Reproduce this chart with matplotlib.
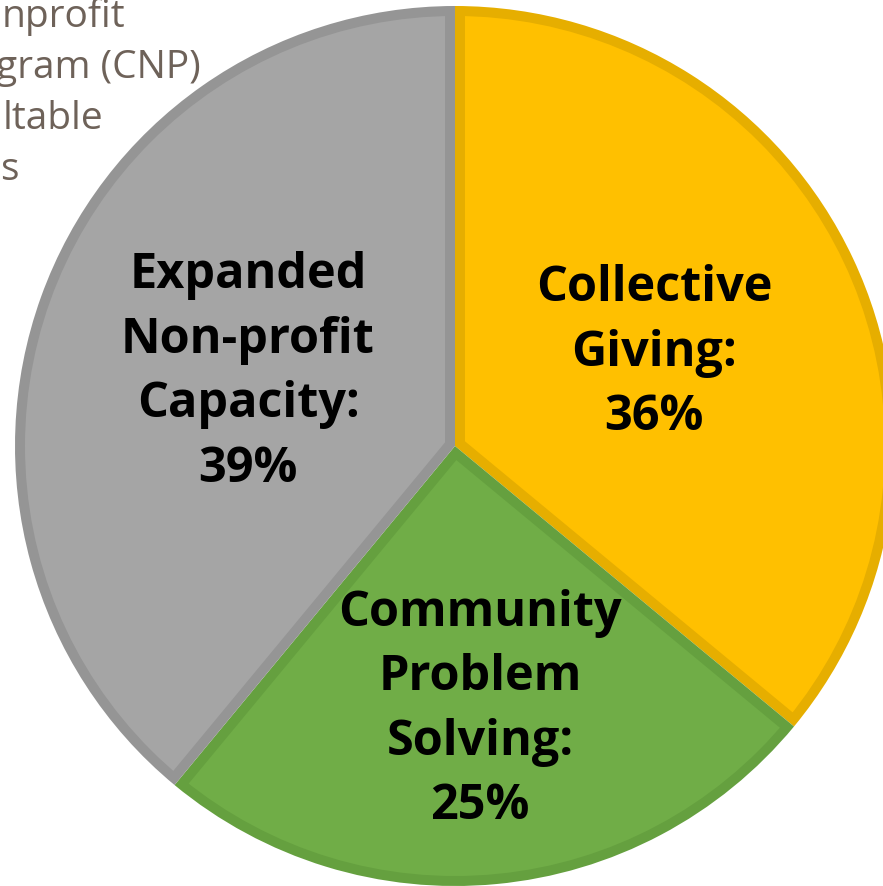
import numpy as np
import matplotlib.pyplot as plt
from matplotlib.patches import Wedge, Circle

# dados do grafico
categorias = ['Collective\nGiving', 'Community\nProblem\nSolving', 'Expanded\nNon-profit\nCapacity']
valores = [36, 25, 39]
cores = ['#FFC000', '#70AD47', '#A5A5A5']
bordas = ['#E6AE00', '#65A03F', '#959595']
titulo_linhas = ['nprofit', 'gram (CNP)', 'ltable', 's']

W, H = 883, 887
fig = plt.figure(figsize=(W / 100, H / 100), dpi=100)
fig.patch.set_facecolor('white')

# pie centrado em (455, 447) px, raio 440 px
cx, cy, r = 455, 447, 440
ax = fig.add_axes([(cx - r) / W, (H - cy - r) / H, 2 * r / W, 2 * r / H])

# fatias de base na cor da borda
wedges, _ = ax.pie(valores, colors=bordas, startangle=90, counterclock=False,
                   radius=1, wedgeprops=dict(linewidth=0))

# preenchimento interno (borda de ~10px para dentro)
d = 10 / r
circ = Circle((0, 0), 1 - d, transform=ax.transData)
for w, c in zip(wedges, cores):
    meio = np.deg2rad((w.theta1 + w.theta2) / 2)
    meia = np.deg2rad(abs(w.theta2 - w.theta1) / 2)
    s = d / np.sin(meia)
    inner = Wedge((s * np.cos(meio), s * np.sin(meio)), 1.0, w.theta1, w.theta2,
                  facecolor=c, linewidth=0)
    ax.add_patch(inner)
    inner.set_clip_path(circ)

ax.set_xlim(-1, 1)
ax.set_ylim(-1, 1)
ax.set_aspect('equal')
ax.axis('off')

# rotulos no meio de cada fatia
dist = [0.5, 0.6, 0.5]
for w, cat, v, dd in zip(wedges, categorias, valores, dist):
    ang = np.deg2rad((w.theta1 + w.theta2) / 2)
    ax.text(dd * np.cos(ang), dd * np.sin(ang), f'{cat}:\n{v}%',
            ha='center', va='center', fontsize=35, fontweight='bold',
            family='Open Sans', color='black', linespacing=1.42)

# titulo cortado no canto superior esquerdo
xs = [2, -4, 3, 0]
for i, (linha, x0) in enumerate(zip(titulo_linhas, xs)):
    fig.text(x0 / W, 1 - (27 + 51 * i) / H, linha, ha='left', va='baseline',
             fontsize=28, family='Open Sans', color='#6E6259')

fig.savefig('out.png', dpi=100)
